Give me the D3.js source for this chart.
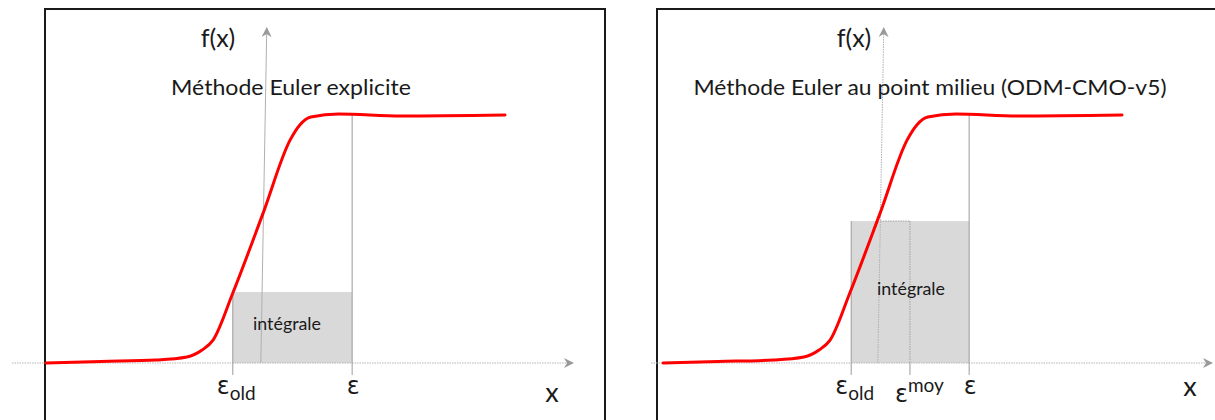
<!DOCTYPE html>
<html><head><meta charset="utf-8">
<script src="https://cdn.jsdelivr.net/npm/d3@7"></script>
<style>
html,body{margin:0;padding:0;background:#fff;}
svg{display:block;}
text{font-family:Lato,"Open Sans",sans-serif;fill:#1a1a1a;}
.greek{font-family:"DejaVu Sans","Noto Sans",sans-serif;}
</style></head>
<body>
<script>
// ---- data ----
const titles = ["Méthode Euler explicite", "Méthode Euler au point milieu (ODM-CMO-v5)"];
const curveX = [0, 12, 24.0, 30.7, 34.0, 36.4, 40.7, 47.3, 53.2, 55.3, 57.7, 63.8, 77.3, 100];
const curveY = [0, 0.6, 1.2, 2.4, 5.2, 9.2, 28.1, 60.2, 89.6, 95.6, 98.8, 100, 99.2, 99.6];
const epsOld = [40.7, 41.0];
const epsNew = [66.7, 66.7];
const epsMoy = [null, 53.8];
const rectTop = [28.5, 57.0];
const axisXExtent = [[-7.4, 114.8], [-2.6, 119.6]];
const axisYBottom = [46.8, 0];
const axisYTop = [48.1, 134.5];
const integralLabel = "intégrale";

// ---- layout ----
const W = 1215, H = 420;
const offsets = [0, 617];
const frames = [{x:45, y:9, w:560, h:430}, {x:657, y:9, w:600, h:430}];
const titleX = [291, 930], titleW = [240, 473];
const fxX = [218, 854];

const svg = d3.select("body").append("svg").attr("width", W).attr("height", H);
const defs = svg.append("defs");
defs.append("marker").attr("id","arr").attr("viewBox","0 0 10 10")
  .attr("refX",9).attr("refY",5).attr("markerWidth",10).attr("markerHeight",10)
  .attr("markerUnits","userSpaceOnUse").attr("orient","auto")
  .append("path").attr("d","M0,0 L10,5 L0,10 L3,5 Z").attr("fill","#9a9a9a");

const y = d3.scaleLinear().domain([0, 100]).range([363, 114]);
const pts = curveX.map((v, i) => [v, curveY[i]]);

[0, 1].forEach(p => {
  const x = d3.scaleLinear().domain([0, 100]).range([46 + offsets[p], 505 + offsets[p]]);
  const g = svg.append("g");

  // frame
  const f = frames[p];
  g.append("rect").attr("x", f.x).attr("y", f.y).attr("width", f.w).attr("height", f.h)
    .attr("fill", "none").attr("stroke", "#1a1a1a").attr("stroke-width", 2);

  // integral rectangle
  const x0 = epsOld[p], x1 = epsNew[p];
  g.append("rect").attr("x", x(x0)).attr("y", y(rectTop[p]))
    .attr("width", x(x1) - x(x0)).attr("height", y(0) - y(rectTop[p]))
    .attr("fill", "#d9d9d9");

  // x axis
  g.append("line").attr("x1", x(axisXExtent[p][0])).attr("x2", x(axisXExtent[p][1]))
    .attr("y1", y(0)).attr("y2", y(0))
    .attr("stroke", "#b4b4b4").attr("stroke-width", 1.2).attr("stroke-dasharray", "1.5,1")
    .attr("marker-end", "url(#arr)");

  // y axis
  g.append("line").attr("x1", x(axisYBottom[0])).attr("y1", y(axisYBottom[1]))
    .attr("x2", x(axisYTop[0])).attr("y2", y(axisYTop[1]))
    .attr("stroke", "#b0b0b0").attr("stroke-width", 1)
    .attr("stroke-dasharray", p === 1 ? "1.5,1" : null)
    .attr("marker-end", "url(#arr)");

  // eps_old line
  g.append("line").attr("x1", x(x0)).attr("x2", x(x0))
    .attr("y1", y(rectTop[p])).attr("y2", y(-4.8))
    .attr("stroke", "#9a9a9a").attr("stroke-width", 1);
  // eps line
  g.append("line").attr("x1", x(x1)).attr("x2", x(x1))
    .attr("y1", y(100)).attr("y2", y(-4.8))
    .attr("stroke", "#9a9a9a").attr("stroke-width", 1);

  if (epsMoy[p] != null) {
    const xm = epsMoy[p];
    g.append("line").attr("x1", x(xm)).attr("x2", x(xm))
      .attr("y1", y(rectTop[p])).attr("y2", y(0))
      .attr("stroke", "#a0a0a0").attr("stroke-width", 1).attr("stroke-dasharray", "1.5,1");
    g.append("line").attr("x1", x(xm)).attr("x2", x(xm))
      .attr("y1", y(0)).attr("y2", y(-4.8))
      .attr("stroke", "#9a9a9a").attr("stroke-width", 1);
    // dotted top edge between y axis and eps_moy
    const yAxisXAtTop = axisYBottom[0] + (axisYTop[0] - axisYBottom[0]) * (rectTop[p] / axisYTop[1]);
    g.append("line").attr("x1", x(yAxisXAtTop)).attr("x2", x(xm))
      .attr("y1", y(rectTop[p])).attr("y2", y(rectTop[p]))
      .attr("stroke", "#a0a0a0").attr("stroke-width", 1).attr("stroke-dasharray", "1.5,1");
  }

  // red curve
  g.append("path").datum(pts)
    .attr("d", d3.line().x(d => x(d[0])).y(d => y(d[1])).curve(d3.curveMonotoneX))
    .attr("fill", "none").attr("stroke", "#ff0000").attr("stroke-width", 3)
    .attr("stroke-linecap", "round");

  // title
  g.append("text").attr("x", titleX[p]).attr("y", 95).attr("text-anchor", "middle")
    .attr("font-size", 21).attr("textLength", titleW[p]).attr("lengthAdjust", "spacingAndGlyphs")
    .text(titles[p]);

  // f(x)
  g.append("text").attr("x", fxX[p]).attr("y", 47).attr("text-anchor", "middle")
    .attr("font-size", 25).text("f(x)");

  // integral label
  const labY = p === 0 ? 330 : 295;
  const labX = p === 0 ? 287 : 911;
  g.append("text").attr("x", labX).attr("y", labY).attr("text-anchor", "middle")
    .attr("font-size", 17).attr("textLength", 68).attr("lengthAdjust", "spacingAndGlyphs")
    .attr("fill", "#222").text(integralLabel);

  // x label
  g.append("text").attr("x", p === 0 ? 552 : 1190).attr("y", p === 0 ? 402 : 396)
    .attr("text-anchor", "middle").attr("font-size", 27).text("x");

  // eps_old label
  const t1 = g.append("text").attr("x", x(x0) - 16).attr("y", 394).attr("font-size", 24);
  t1.append("tspan").attr("class", "greek").text("ε");
  t1.append("tspan").attr("dy", 6).attr("font-size", 19).text("old");

  // eps label
  g.append("text").attr("class", "greek").attr("x", x(x1) + 1).attr("y", 394)
    .attr("text-anchor", "middle").attr("font-size", 24).text("ε");

  if (epsMoy[p] != null) {
    const t2 = g.append("text").attr("x", x(epsMoy[p]) - 15).attr("y", 402).attr("font-size", 24);
    t2.append("tspan").attr("class", "greek").text("ε");
    t2.append("tspan").attr("dy", -10).attr("font-size", 19).text("moy");
  }
});
</script>
</body></html>
